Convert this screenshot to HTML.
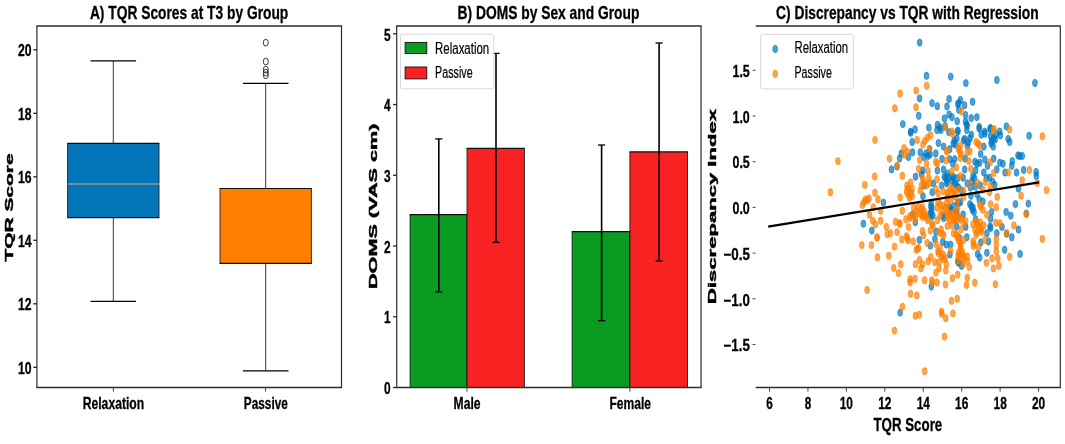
<!DOCTYPE html>
<html><head><meta charset="utf-8"><title>Figure</title>
<style>
html,body{margin:0;padding:0;background:#fff;}
body{width:1065px;height:444px;overflow:hidden;font-family:"Liberation Sans",sans-serif;}
svg{display:block;font-family:"Liberation Sans",sans-serif;will-change:transform;opacity:.999;}
.b{fill:#0079c4;fill-opacity:.7;stroke:#0079c4;stroke-opacity:.7;stroke-width:.8}
.o{fill:#ff7f00;fill-opacity:.7;stroke:#ff7f00;stroke-opacity:.7;stroke-width:.8}
</style></head><body>
<svg width="1065" height="444" viewBox="0 0 1065 444">
<rect x="0" y="0" width="1065" height="444" fill="#fff"/>
<line x1="113.30" x2="113.30" y1="60.90" y2="143.30" stroke="#222" stroke-width="0.9"/>
<line x1="113.30" x2="113.30" y1="217.60" y2="301.40" stroke="#222" stroke-width="0.9"/>
<line x1="90.50" x2="136.10" y1="60.90" y2="60.90" stroke="#000" stroke-width="1.25"/>
<line x1="90.50" x2="136.10" y1="301.40" y2="301.40" stroke="#000" stroke-width="1.25"/>
<rect x="67.60" y="143.30" width="91.40" height="74.30" fill="#0275b8"/>
<line x1="67.60" x2="67.60" y1="143.30" y2="217.60" stroke="#151515" stroke-width="0.85"/>
<line x1="159.00" x2="159.00" y1="143.30" y2="217.60" stroke="#151515" stroke-width="0.85"/>
<line x1="67.20" x2="159.40" y1="143.30" y2="143.30" stroke="#101010" stroke-width="1.2"/>
<line x1="67.20" x2="159.40" y1="217.60" y2="217.60" stroke="#101010" stroke-width="1.2"/>
<line x1="67.60" x2="159.00" y1="184.10" y2="184.10" stroke="#9a9488" stroke-width="1.5"/>
<line x1="265.70" x2="265.70" y1="83.30" y2="188.50" stroke="#222" stroke-width="0.9"/>
<line x1="265.70" x2="265.70" y1="263.40" y2="370.80" stroke="#222" stroke-width="0.9"/>
<line x1="242.90" x2="288.50" y1="83.30" y2="83.30" stroke="#000" stroke-width="1.25"/>
<line x1="242.90" x2="288.50" y1="370.80" y2="370.80" stroke="#000" stroke-width="1.25"/>
<rect x="220.00" y="188.50" width="91.40" height="74.90" fill="#ff7f00"/>
<line x1="220.00" x2="220.00" y1="188.50" y2="263.40" stroke="#151515" stroke-width="0.85"/>
<line x1="311.40" x2="311.40" y1="188.50" y2="263.40" stroke="#151515" stroke-width="0.85"/>
<line x1="219.60" x2="311.80" y1="188.50" y2="188.50" stroke="#101010" stroke-width="1.2"/>
<line x1="219.60" x2="311.80" y1="263.40" y2="263.40" stroke="#101010" stroke-width="1.2"/>
<ellipse cx="265.8" cy="42.7" rx="2.5" ry="3.4" fill="none" stroke="#222" stroke-width="0.9"/>
<ellipse cx="265.8" cy="61.5" rx="2.5" ry="3.4" fill="none" stroke="#222" stroke-width="0.9"/>
<ellipse cx="265.8" cy="69.6" rx="2.5" ry="3.4" fill="none" stroke="#222" stroke-width="0.9"/>
<ellipse cx="265.8" cy="72.6" rx="2.5" ry="3.4" fill="none" stroke="#222" stroke-width="0.9"/>
<ellipse cx="265.8" cy="75.2" rx="2.5" ry="3.4" fill="none" stroke="#222" stroke-width="0.9"/>
<line x1="36.30" x2="342.10" y1="26.00" y2="26.00" stroke="#2e2e2e" stroke-width="1.5"/>
<line x1="36.30" x2="342.10" y1="387.50" y2="387.50" stroke="#2e2e2e" stroke-width="1.5"/>
<line x1="341.50" x2="341.50" y1="26.00" y2="387.50" stroke="#2e2e2e" stroke-width="1.2"/>
<line x1="36.90" x2="36.90" y1="26.00" y2="387.50" stroke="#2e2e2e" stroke-width="1.2"/>
<line x1="33.30" x2="36.90" y1="49.80" y2="49.80" stroke="#222" stroke-width="1.3"/>
<text x="17.90" y="56.20" font-size="16.4" font-weight="bold" fill="#000" stroke="#000" stroke-width="0.3" textLength="13.60" lengthAdjust="spacingAndGlyphs">20</text>
<line x1="33.30" x2="36.90" y1="113.30" y2="113.30" stroke="#222" stroke-width="1.3"/>
<text x="17.90" y="119.70" font-size="16.4" font-weight="bold" fill="#000" stroke="#000" stroke-width="0.3" textLength="13.60" lengthAdjust="spacingAndGlyphs">18</text>
<line x1="33.30" x2="36.90" y1="176.80" y2="176.80" stroke="#222" stroke-width="1.3"/>
<text x="17.90" y="183.20" font-size="16.4" font-weight="bold" fill="#000" stroke="#000" stroke-width="0.3" textLength="13.60" lengthAdjust="spacingAndGlyphs">16</text>
<line x1="33.30" x2="36.90" y1="240.30" y2="240.30" stroke="#222" stroke-width="1.3"/>
<text x="17.90" y="246.70" font-size="16.4" font-weight="bold" fill="#000" stroke="#000" stroke-width="0.3" textLength="13.60" lengthAdjust="spacingAndGlyphs">14</text>
<line x1="33.30" x2="36.90" y1="303.80" y2="303.80" stroke="#222" stroke-width="1.3"/>
<text x="17.90" y="310.20" font-size="16.4" font-weight="bold" fill="#000" stroke="#000" stroke-width="0.3" textLength="13.60" lengthAdjust="spacingAndGlyphs">12</text>
<line x1="33.30" x2="36.90" y1="367.30" y2="367.30" stroke="#222" stroke-width="1.3"/>
<text x="17.90" y="373.70" font-size="16.4" font-weight="bold" fill="#000" stroke="#000" stroke-width="0.3" textLength="13.60" lengthAdjust="spacingAndGlyphs">10</text>
<line x1="113.40" x2="113.40" y1="387.50" y2="391.70" stroke="#333" stroke-width="0.9"/>
<line x1="265.60" x2="265.60" y1="387.50" y2="391.70" stroke="#333" stroke-width="0.9"/>
<text x="82.70" y="409.00" font-size="16.6" font-weight="bold" fill="#000" stroke="#000" stroke-width="0.3" textLength="61.50" lengthAdjust="spacingAndGlyphs">Relaxation</text>
<text x="243.80" y="409.00" font-size="16.6" font-weight="bold" fill="#000" stroke="#000" stroke-width="0.3" textLength="44.00" lengthAdjust="spacingAndGlyphs">Passive</text>
<text x="89.90" y="18.80" font-size="18.6" font-weight="bold" fill="#000" stroke="#000" stroke-width="0.3" textLength="198.40" lengthAdjust="spacingAndGlyphs">A) TQR Scores at T3 by Group</text>
<text transform="translate(12.50,261.60) rotate(-90)" x="0" y="0" font-size="11.3" font-weight="bold" stroke="#000" stroke-width="0.45" textLength="108.20" lengthAdjust="spacingAndGlyphs">TQR Score</text>
<rect x="410.10" y="214.70" width="56.90" height="172.80" fill="#0a9b22"/>
<line x1="410.10" x2="410.10" y1="214.70" y2="387.50" stroke="#151515" stroke-width="0.85"/>
<line x1="467.00" x2="467.00" y1="214.70" y2="387.50" stroke="#151515" stroke-width="0.85"/>
<line x1="409.70" x2="467.40" y1="214.70" y2="214.70" stroke="#101010" stroke-width="1.2"/>
<rect x="467.00" y="148.40" width="57.40" height="239.10" fill="#f82222"/>
<line x1="467.00" x2="467.00" y1="148.40" y2="387.50" stroke="#151515" stroke-width="0.85"/>
<line x1="524.40" x2="524.40" y1="148.40" y2="387.50" stroke="#151515" stroke-width="0.85"/>
<line x1="466.60" x2="524.80" y1="148.40" y2="148.40" stroke="#101010" stroke-width="1.2"/>
<rect x="572.10" y="231.70" width="57.80" height="155.80" fill="#0a9b22"/>
<line x1="572.10" x2="572.10" y1="231.70" y2="387.50" stroke="#151515" stroke-width="0.85"/>
<line x1="629.90" x2="629.90" y1="231.70" y2="387.50" stroke="#151515" stroke-width="0.85"/>
<line x1="571.70" x2="630.30" y1="231.70" y2="231.70" stroke="#101010" stroke-width="1.2"/>
<rect x="629.90" y="151.90" width="57.60" height="235.60" fill="#f82222"/>
<line x1="629.90" x2="629.90" y1="151.90" y2="387.50" stroke="#151515" stroke-width="0.85"/>
<line x1="687.50" x2="687.50" y1="151.90" y2="387.50" stroke="#151515" stroke-width="0.85"/>
<line x1="629.50" x2="687.90" y1="151.90" y2="151.90" stroke="#101010" stroke-width="1.2"/>
<line x1="438.80" x2="438.80" y1="138.90" y2="291.80" stroke="#000" stroke-width="1.6"/>
<line x1="435.20" x2="442.40" y1="138.90" y2="138.90" stroke="#000" stroke-width="1.3"/>
<line x1="435.20" x2="442.40" y1="291.80" y2="291.80" stroke="#000" stroke-width="1.3"/>
<line x1="496.00" x2="496.00" y1="53.40" y2="242.40" stroke="#000" stroke-width="1.6"/>
<line x1="492.40" x2="499.60" y1="53.40" y2="53.40" stroke="#000" stroke-width="1.3"/>
<line x1="492.40" x2="499.60" y1="242.40" y2="242.40" stroke="#000" stroke-width="1.3"/>
<line x1="601.60" x2="601.60" y1="145.00" y2="320.70" stroke="#000" stroke-width="1.6"/>
<line x1="598.00" x2="605.20" y1="145.00" y2="145.00" stroke="#000" stroke-width="1.3"/>
<line x1="598.00" x2="605.20" y1="320.70" y2="320.70" stroke="#000" stroke-width="1.3"/>
<line x1="659.10" x2="659.10" y1="43.00" y2="261.00" stroke="#000" stroke-width="1.6"/>
<line x1="655.50" x2="662.70" y1="43.00" y2="43.00" stroke="#000" stroke-width="1.3"/>
<line x1="655.50" x2="662.70" y1="261.00" y2="261.00" stroke="#000" stroke-width="1.3"/>
<line x1="396.10" x2="701.60" y1="26.00" y2="26.00" stroke="#2e2e2e" stroke-width="1.5"/>
<line x1="396.10" x2="701.60" y1="387.50" y2="387.50" stroke="#2e2e2e" stroke-width="1.5"/>
<line x1="701.00" x2="701.00" y1="26.00" y2="387.50" stroke="#2e2e2e" stroke-width="1.2"/>
<line x1="396.70" x2="396.70" y1="26.00" y2="387.50" stroke="#2e2e2e" stroke-width="1.2"/>
<line x1="393.10" x2="396.70" y1="387.50" y2="387.50" stroke="#222" stroke-width="1.3"/>
<text x="384.00" y="394.20" font-size="16.4" font-weight="bold" fill="#000" stroke="#000" stroke-width="0.3" textLength="6.60" lengthAdjust="spacingAndGlyphs">0</text>
<line x1="393.10" x2="396.70" y1="316.76" y2="316.76" stroke="#222" stroke-width="1.3"/>
<text x="384.00" y="323.46" font-size="16.4" font-weight="bold" fill="#000" stroke="#000" stroke-width="0.3" textLength="6.60" lengthAdjust="spacingAndGlyphs">1</text>
<line x1="393.10" x2="396.70" y1="246.02" y2="246.02" stroke="#222" stroke-width="1.3"/>
<text x="384.00" y="252.72" font-size="16.4" font-weight="bold" fill="#000" stroke="#000" stroke-width="0.3" textLength="6.60" lengthAdjust="spacingAndGlyphs">2</text>
<line x1="393.10" x2="396.70" y1="175.28" y2="175.28" stroke="#222" stroke-width="1.3"/>
<text x="384.00" y="181.98" font-size="16.4" font-weight="bold" fill="#000" stroke="#000" stroke-width="0.3" textLength="6.60" lengthAdjust="spacingAndGlyphs">3</text>
<line x1="393.10" x2="396.70" y1="104.54" y2="104.54" stroke="#222" stroke-width="1.3"/>
<text x="384.00" y="111.24" font-size="16.4" font-weight="bold" fill="#000" stroke="#000" stroke-width="0.3" textLength="6.60" lengthAdjust="spacingAndGlyphs">4</text>
<line x1="393.10" x2="396.70" y1="33.80" y2="33.80" stroke="#222" stroke-width="1.3"/>
<text x="384.00" y="40.50" font-size="16.4" font-weight="bold" fill="#000" stroke="#000" stroke-width="0.3" textLength="6.60" lengthAdjust="spacingAndGlyphs">5</text>
<line x1="467.00" x2="467.00" y1="387.50" y2="391.70" stroke="#333" stroke-width="0.9"/>
<line x1="629.90" x2="629.90" y1="387.50" y2="391.70" stroke="#333" stroke-width="0.9"/>
<text x="453.60" y="409.00" font-size="16.6" font-weight="bold" fill="#000" stroke="#000" stroke-width="0.3" textLength="27.00" lengthAdjust="spacingAndGlyphs">Male</text>
<text x="609.50" y="409.00" font-size="16.6" font-weight="bold" fill="#000" stroke="#000" stroke-width="0.3" textLength="41.50" lengthAdjust="spacingAndGlyphs">Female</text>
<text x="457.60" y="18.80" font-size="18.6" font-weight="bold" fill="#000" stroke="#000" stroke-width="0.3" textLength="181.80" lengthAdjust="spacingAndGlyphs">B) DOMS by Sex and Group</text>
<text transform="translate(377.20,289.00) rotate(-90)" x="0" y="0" font-size="11.3" font-weight="bold" stroke="#000" stroke-width="0.45" textLength="165.40" lengthAdjust="spacingAndGlyphs">DOMS (VAS cm)</text>
<rect x="400.5" y="34.2" width="93.3" height="54.6" rx="2" ry="2.5" fill="#fff" fill-opacity="0.8" stroke="#d4d4d4" stroke-width="0.9"/>
<rect x="405.1" y="42.4" width="21.7" height="11.1" fill="#0a9b22" stroke="#111" stroke-width="0.9"/>
<rect x="405.1" y="67.0" width="21.7" height="11.9" fill="#f82222" stroke="#111" stroke-width="0.9"/>
<text x="435.10" y="53.50" font-size="16" font-weight="normal" fill="#000" stroke="#000" stroke-width="0.2" textLength="54.10" lengthAdjust="spacingAndGlyphs">Relaxation</text>
<text x="435.10" y="77.80" font-size="16" font-weight="normal" fill="#000" stroke="#000" stroke-width="0.2" textLength="37.60" lengthAdjust="spacingAndGlyphs">Passive</text>
<g>
<ellipse class="b" cx="919.7" cy="42.6" rx="2.4" ry="3.7"/>
<ellipse class="b" cx="926.5" cy="75.8" rx="2.4" ry="3.7"/>
<ellipse class="b" cx="950.7" cy="76.6" rx="2.4" ry="3.7"/>
<ellipse class="b" cx="965.9" cy="83.1" rx="2.4" ry="3.7"/>
<ellipse class="b" cx="996.9" cy="80.0" rx="2.4" ry="3.7"/>
<ellipse class="b" cx="1034.9" cy="83.0" rx="2.4" ry="3.7"/>
<ellipse class="b" cx="919.6" cy="98.4" rx="2.4" ry="3.7"/>
<ellipse class="b" cx="949.1" cy="98.9" rx="2.4" ry="3.7"/>
<ellipse class="b" cx="932.0" cy="103.1" rx="2.4" ry="3.7"/>
<ellipse class="b" cx="937.3" cy="106.2" rx="2.4" ry="3.7"/>
<ellipse class="b" cx="947.0" cy="106.5" rx="2.4" ry="3.7"/>
<ellipse class="b" cx="958.8" cy="103.1" rx="2.4" ry="3.7"/>
<ellipse class="b" cx="918.7" cy="115.7" rx="2.4" ry="3.7"/>
<ellipse class="b" cx="949.1" cy="114.5" rx="2.4" ry="3.7"/>
<ellipse class="b" cx="952.0" cy="117.1" rx="2.4" ry="3.7"/>
<ellipse class="b" cx="944.5" cy="118.4" rx="2.4" ry="3.7"/>
<ellipse class="b" cx="957.2" cy="121.2" rx="2.4" ry="3.7"/>
<ellipse class="b" cx="902.8" cy="124.1" rx="2.4" ry="3.7"/>
<ellipse class="b" cx="928.9" cy="127.6" rx="2.4" ry="3.7"/>
<ellipse class="b" cx="937.5" cy="124.8" rx="2.4" ry="3.7"/>
<ellipse class="b" cx="945.1" cy="126.0" rx="2.4" ry="3.7"/>
<ellipse class="b" cx="915.0" cy="129.4" rx="2.4" ry="3.7"/>
<ellipse class="b" cx="910.6" cy="131.6" rx="2.4" ry="3.7"/>
<ellipse class="b" cx="937.0" cy="130.2" rx="2.4" ry="3.7"/>
<ellipse class="b" cx="940.1" cy="127.4" rx="2.4" ry="3.7"/>
<ellipse class="b" cx="960.4" cy="100.0" rx="2.4" ry="3.7"/>
<ellipse class="b" cx="957.8" cy="104.1" rx="2.4" ry="3.7"/>
<ellipse class="b" cx="964.5" cy="105.2" rx="2.4" ry="3.7"/>
<ellipse class="b" cx="972.6" cy="101.7" rx="2.4" ry="3.7"/>
<ellipse class="b" cx="958.8" cy="109.8" rx="2.4" ry="3.7"/>
<ellipse class="b" cx="965.5" cy="115.0" rx="2.4" ry="3.7"/>
<ellipse class="b" cx="971.2" cy="118.1" rx="2.4" ry="3.7"/>
<ellipse class="b" cx="976.9" cy="117.1" rx="2.4" ry="3.7"/>
<ellipse class="b" cx="966.6" cy="124.4" rx="2.4" ry="3.7"/>
<ellipse class="b" cx="965.5" cy="121.7" rx="2.4" ry="3.7"/>
<ellipse class="b" cx="967.2" cy="125.5" rx="2.4" ry="3.7"/>
<ellipse class="b" cx="979.2" cy="126.9" rx="2.4" ry="3.7"/>
<ellipse class="b" cx="990.4" cy="127.9" rx="2.4" ry="3.7"/>
<ellipse class="b" cx="1006.4" cy="126.4" rx="2.4" ry="3.7"/>
<ellipse class="b" cx="957.8" cy="130.5" rx="2.4" ry="3.7"/>
<ellipse class="b" cx="984.7" cy="131.6" rx="2.4" ry="3.7"/>
<ellipse class="b" cx="999.7" cy="131.6" rx="2.4" ry="3.7"/>
<ellipse class="b" cx="910.7" cy="132.7" rx="2.4" ry="3.7"/>
<ellipse class="b" cx="941.0" cy="130.0" rx="2.4" ry="3.7"/>
<ellipse class="b" cx="948.8" cy="132.1" rx="2.4" ry="3.7"/>
<ellipse class="b" cx="912.2" cy="142.0" rx="2.4" ry="3.7"/>
<ellipse class="b" cx="938.4" cy="143.0" rx="2.4" ry="3.7"/>
<ellipse class="b" cx="943.6" cy="146.6" rx="2.4" ry="3.7"/>
<ellipse class="b" cx="901.3" cy="153.4" rx="2.4" ry="3.7"/>
<ellipse class="b" cx="912.5" cy="152.3" rx="2.4" ry="3.7"/>
<ellipse class="b" cx="908.4" cy="157.0" rx="2.4" ry="3.7"/>
<ellipse class="b" cx="899.6" cy="158.6" rx="2.4" ry="3.7"/>
<ellipse class="b" cx="929.6" cy="149.5" rx="2.4" ry="3.7"/>
<ellipse class="b" cx="920.3" cy="152.3" rx="2.4" ry="3.7"/>
<ellipse class="b" cx="926.0" cy="153.4" rx="2.4" ry="3.7"/>
<ellipse class="b" cx="930.1" cy="154.4" rx="2.4" ry="3.7"/>
<ellipse class="b" cx="935.8" cy="153.4" rx="2.4" ry="3.7"/>
<ellipse class="b" cx="942.0" cy="159.0" rx="2.4" ry="3.7"/>
<ellipse class="b" cx="897.0" cy="166.5" rx="2.4" ry="3.7"/>
<ellipse class="b" cx="891.5" cy="169.4" rx="2.4" ry="3.7"/>
<ellipse class="b" cx="922.9" cy="170.5" rx="2.4" ry="3.7"/>
<ellipse class="b" cx="937.4" cy="170.5" rx="2.4" ry="3.7"/>
<ellipse class="b" cx="943.6" cy="169.4" rx="2.4" ry="3.7"/>
<ellipse class="b" cx="957.9" cy="131.6" rx="2.4" ry="3.7"/>
<ellipse class="b" cx="966.8" cy="130.1" rx="2.4" ry="3.7"/>
<ellipse class="b" cx="979.2" cy="128.5" rx="2.4" ry="3.7"/>
<ellipse class="b" cx="990.1" cy="129.0" rx="2.4" ry="3.7"/>
<ellipse class="b" cx="971.4" cy="134.7" rx="2.4" ry="3.7"/>
<ellipse class="b" cx="981.3" cy="134.7" rx="2.4" ry="3.7"/>
<ellipse class="b" cx="984.9" cy="133.7" rx="2.4" ry="3.7"/>
<ellipse class="b" cx="990.6" cy="136.3" rx="2.4" ry="3.7"/>
<ellipse class="b" cx="995.8" cy="134.2" rx="2.4" ry="3.7"/>
<ellipse class="b" cx="1000.4" cy="135.3" rx="2.4" ry="3.7"/>
<ellipse class="b" cx="1029.1" cy="135.8" rx="2.4" ry="3.7"/>
<ellipse class="b" cx="964.7" cy="138.9" rx="2.4" ry="3.7"/>
<ellipse class="b" cx="954.3" cy="140.4" rx="2.4" ry="3.7"/>
<ellipse class="b" cx="955.4" cy="144.6" rx="2.4" ry="3.7"/>
<ellipse class="b" cx="968.3" cy="142.5" rx="2.4" ry="3.7"/>
<ellipse class="b" cx="983.8" cy="146.6" rx="2.4" ry="3.7"/>
<ellipse class="b" cx="991.6" cy="140.9" rx="2.4" ry="3.7"/>
<ellipse class="b" cx="995.2" cy="139.4" rx="2.4" ry="3.7"/>
<ellipse class="b" cx="993.2" cy="146.6" rx="2.4" ry="3.7"/>
<ellipse class="b" cx="1008.2" cy="138.9" rx="2.4" ry="3.7"/>
<ellipse class="b" cx="1009.7" cy="142.0" rx="2.4" ry="3.7"/>
<ellipse class="b" cx="949.7" cy="149.2" rx="2.4" ry="3.7"/>
<ellipse class="b" cx="980.7" cy="153.9" rx="2.4" ry="3.7"/>
<ellipse class="b" cx="1018.0" cy="155.4" rx="2.4" ry="3.7"/>
<ellipse class="b" cx="1022.2" cy="156.0" rx="2.4" ry="3.7"/>
<ellipse class="b" cx="949.7" cy="159.1" rx="2.4" ry="3.7"/>
<ellipse class="b" cx="954.8" cy="159.1" rx="2.4" ry="3.7"/>
<ellipse class="b" cx="965.2" cy="158.6" rx="2.4" ry="3.7"/>
<ellipse class="b" cx="975.0" cy="161.7" rx="2.4" ry="3.7"/>
<ellipse class="b" cx="979.7" cy="162.7" rx="2.4" ry="3.7"/>
<ellipse class="b" cx="984.9" cy="159.6" rx="2.4" ry="3.7"/>
<ellipse class="b" cx="993.7" cy="158.6" rx="2.4" ry="3.7"/>
<ellipse class="b" cx="999.9" cy="162.7" rx="2.4" ry="3.7"/>
<ellipse class="b" cx="1003.0" cy="163.7" rx="2.4" ry="3.7"/>
<ellipse class="b" cx="1012.3" cy="161.1" rx="2.4" ry="3.7"/>
<ellipse class="b" cx="1011.8" cy="165.8" rx="2.4" ry="3.7"/>
<ellipse class="b" cx="952.8" cy="163.7" rx="2.4" ry="3.7"/>
<ellipse class="b" cx="987.5" cy="165.8" rx="2.4" ry="3.7"/>
<ellipse class="b" cx="964.7" cy="169.4" rx="2.4" ry="3.7"/>
<ellipse class="b" cx="975.6" cy="170.5" rx="2.4" ry="3.7"/>
<ellipse class="b" cx="983.8" cy="172.5" rx="2.4" ry="3.7"/>
<ellipse class="b" cx="996.8" cy="169.4" rx="2.4" ry="3.7"/>
<ellipse class="b" cx="1005.1" cy="172.5" rx="2.4" ry="3.7"/>
<ellipse class="b" cx="1016.5" cy="172.5" rx="2.4" ry="3.7"/>
<ellipse class="b" cx="1023.7" cy="170.0" rx="2.4" ry="3.7"/>
<ellipse class="b" cx="1036.1" cy="172.0" rx="2.4" ry="3.7"/>
<ellipse class="b" cx="947.6" cy="173.6" rx="2.4" ry="3.7"/>
<ellipse class="b" cx="915.5" cy="176.7" rx="2.4" ry="3.7"/>
<ellipse class="b" cx="883.4" cy="202.6" rx="2.4" ry="3.7"/>
<ellipse class="b" cx="923.0" cy="196.3" rx="2.4" ry="3.7"/>
<ellipse class="b" cx="924.1" cy="185.5" rx="2.4" ry="3.7"/>
<ellipse class="b" cx="932.3" cy="192.2" rx="2.4" ry="3.7"/>
<ellipse class="b" cx="933.4" cy="183.4" rx="2.4" ry="3.7"/>
<ellipse class="b" cx="941.7" cy="185.5" rx="2.4" ry="3.7"/>
<ellipse class="b" cx="946.8" cy="183.4" rx="2.4" ry="3.7"/>
<ellipse class="b" cx="944.3" cy="176.7" rx="2.4" ry="3.7"/>
<ellipse class="b" cx="948.4" cy="177.2" rx="2.4" ry="3.7"/>
<ellipse class="b" cx="952.5" cy="181.3" rx="2.4" ry="3.7"/>
<ellipse class="b" cx="956.7" cy="185.5" rx="2.4" ry="3.7"/>
<ellipse class="b" cx="957.7" cy="178.2" rx="2.4" ry="3.7"/>
<ellipse class="b" cx="931.3" cy="203.1" rx="2.4" ry="3.7"/>
<ellipse class="b" cx="931.8" cy="208.3" rx="2.4" ry="3.7"/>
<ellipse class="b" cx="930.3" cy="213.4" rx="2.4" ry="3.7"/>
<ellipse class="b" cx="949.4" cy="207.2" rx="2.4" ry="3.7"/>
<ellipse class="b" cx="953.6" cy="206.2" rx="2.4" ry="3.7"/>
<ellipse class="b" cx="957.7" cy="203.1" rx="2.4" ry="3.7"/>
<ellipse class="b" cx="912.7" cy="214.5" rx="2.4" ry="3.7"/>
<ellipse class="b" cx="943.2" cy="215.5" rx="2.4" ry="3.7"/>
<ellipse class="b" cx="921.5" cy="174.1" rx="2.4" ry="3.7"/>
<ellipse class="b" cx="963.1" cy="177.7" rx="2.4" ry="3.7"/>
<ellipse class="b" cx="967.3" cy="183.4" rx="2.4" ry="3.7"/>
<ellipse class="b" cx="973.0" cy="176.1" rx="2.4" ry="3.7"/>
<ellipse class="b" cx="971.9" cy="181.3" rx="2.4" ry="3.7"/>
<ellipse class="b" cx="975.0" cy="186.5" rx="2.4" ry="3.7"/>
<ellipse class="b" cx="989.5" cy="177.7" rx="2.4" ry="3.7"/>
<ellipse class="b" cx="992.6" cy="181.8" rx="2.4" ry="3.7"/>
<ellipse class="b" cx="994.7" cy="184.9" rx="2.4" ry="3.7"/>
<ellipse class="b" cx="1036.3" cy="176.0" rx="2.4" ry="3.7"/>
<ellipse class="b" cx="1018.5" cy="188.6" rx="2.4" ry="3.7"/>
<ellipse class="b" cx="960.5" cy="202.0" rx="2.4" ry="3.7"/>
<ellipse class="b" cx="969.9" cy="204.1" rx="2.4" ry="3.7"/>
<ellipse class="b" cx="973.0" cy="207.7" rx="2.4" ry="3.7"/>
<ellipse class="b" cx="974.0" cy="211.9" rx="2.4" ry="3.7"/>
<ellipse class="b" cx="979.2" cy="199.4" rx="2.4" ry="3.7"/>
<ellipse class="b" cx="982.8" cy="201.5" rx="2.4" ry="3.7"/>
<ellipse class="b" cx="977.1" cy="194.3" rx="2.4" ry="3.7"/>
<ellipse class="b" cx="970.9" cy="195.8" rx="2.4" ry="3.7"/>
<ellipse class="b" cx="1015.4" cy="204.1" rx="2.4" ry="3.7"/>
<ellipse class="b" cx="1028.4" cy="203.6" rx="2.4" ry="3.7"/>
<ellipse class="b" cx="1006.1" cy="211.9" rx="2.4" ry="3.7"/>
<ellipse class="b" cx="1010.8" cy="215.6" rx="2.4" ry="3.7"/>
<ellipse class="b" cx="991.6" cy="211.9" rx="2.4" ry="3.7"/>
<ellipse class="b" cx="963.1" cy="214.5" rx="2.4" ry="3.7"/>
<ellipse class="b" cx="956.4" cy="211.4" rx="2.4" ry="3.7"/>
<ellipse class="b" cx="961.6" cy="190.6" rx="2.4" ry="3.7"/>
<ellipse class="b" cx="980.2" cy="185.5" rx="2.4" ry="3.7"/>
<ellipse class="b" cx="958.5" cy="187.5" rx="2.4" ry="3.7"/>
<ellipse class="b" cx="1026.3" cy="213.5" rx="2.4" ry="3.7"/>
<ellipse class="b" cx="863.4" cy="223.7" rx="2.4" ry="3.7"/>
<ellipse class="b" cx="871.8" cy="230.6" rx="2.4" ry="3.7"/>
<ellipse class="b" cx="915.3" cy="222.3" rx="2.4" ry="3.7"/>
<ellipse class="b" cx="919.4" cy="239.9" rx="2.4" ry="3.7"/>
<ellipse class="b" cx="930.3" cy="245.6" rx="2.4" ry="3.7"/>
<ellipse class="b" cx="934.9" cy="238.9" rx="2.4" ry="3.7"/>
<ellipse class="b" cx="942.7" cy="242.0" rx="2.4" ry="3.7"/>
<ellipse class="b" cx="946.3" cy="244.6" rx="2.4" ry="3.7"/>
<ellipse class="b" cx="950.5" cy="244.6" rx="2.4" ry="3.7"/>
<ellipse class="b" cx="943.7" cy="218.1" rx="2.4" ry="3.7"/>
<ellipse class="b" cx="956.7" cy="226.4" rx="2.4" ry="3.7"/>
<ellipse class="b" cx="930.8" cy="216.1" rx="2.4" ry="3.7"/>
<ellipse class="b" cx="936.0" cy="231.6" rx="2.4" ry="3.7"/>
<ellipse class="b" cx="949.9" cy="254.4" rx="2.4" ry="3.7"/>
<ellipse class="b" cx="990.6" cy="218.7" rx="2.4" ry="3.7"/>
<ellipse class="b" cx="990.1" cy="226.4" rx="2.4" ry="3.7"/>
<ellipse class="b" cx="990.6" cy="228.0" rx="2.4" ry="3.7"/>
<ellipse class="b" cx="975.6" cy="219.2" rx="2.4" ry="3.7"/>
<ellipse class="b" cx="965.7" cy="226.9" rx="2.4" ry="3.7"/>
<ellipse class="b" cx="966.8" cy="237.3" rx="2.4" ry="3.7"/>
<ellipse class="b" cx="986.9" cy="233.2" rx="2.4" ry="3.7"/>
<ellipse class="b" cx="996.8" cy="233.2" rx="2.4" ry="3.7"/>
<ellipse class="b" cx="1002.0" cy="226.9" rx="2.4" ry="3.7"/>
<ellipse class="b" cx="1018.5" cy="229.5" rx="2.4" ry="3.7"/>
<ellipse class="b" cx="1011.8" cy="237.3" rx="2.4" ry="3.7"/>
<ellipse class="b" cx="988.5" cy="241.4" rx="2.4" ry="3.7"/>
<ellipse class="b" cx="980.7" cy="242.5" rx="2.4" ry="3.7"/>
<ellipse class="b" cx="1004.6" cy="249.7" rx="2.4" ry="3.7"/>
<ellipse class="b" cx="986.9" cy="252.8" rx="2.4" ry="3.7"/>
<ellipse class="b" cx="977.6" cy="253.9" rx="2.4" ry="3.7"/>
<ellipse class="b" cx="979.7" cy="257.5" rx="2.4" ry="3.7"/>
<ellipse class="b" cx="1020.1" cy="253.9" rx="2.4" ry="3.7"/>
<ellipse class="b" cx="1006.6" cy="233.8" rx="2.4" ry="3.7"/>
<ellipse class="b" cx="931.3" cy="286.6" rx="2.4" ry="3.7"/>
<ellipse class="b" cx="957.7" cy="261.2" rx="2.4" ry="3.7"/>
<ellipse class="b" cx="958.5" cy="262.7" rx="2.4" ry="3.7"/>
<ellipse class="b" cx="961.6" cy="265.8" rx="2.4" ry="3.7"/>
<ellipse class="b" cx="900.1" cy="312.6" rx="2.4" ry="3.7"/>
<ellipse class="b" cx="953.3" cy="143.5" rx="2.4" ry="3.7"/>
<ellipse class="b" cx="956.9" cy="138.4" rx="2.4" ry="3.7"/>
<ellipse class="b" cx="963.6" cy="140.4" rx="2.4" ry="3.7"/>
<ellipse class="b" cx="967.3" cy="145.6" rx="2.4" ry="3.7"/>
<ellipse class="b" cx="969.9" cy="138.4" rx="2.4" ry="3.7"/>
<ellipse class="b" cx="993.7" cy="138.4" rx="2.4" ry="3.7"/>
<ellipse class="b" cx="991.1" cy="143.5" rx="2.4" ry="3.7"/>
<ellipse class="b" cx="1019.6" cy="156.0" rx="2.4" ry="3.7"/>
<ellipse class="b" cx="977.1" cy="163.7" rx="2.4" ry="3.7"/>
<ellipse class="b" cx="945.8" cy="178.2" rx="2.4" ry="3.7"/>
<ellipse class="b" cx="953.6" cy="177.2" rx="2.4" ry="3.7"/>
<ellipse class="b" cx="954.6" cy="183.4" rx="2.4" ry="3.7"/>
<ellipse class="b" cx="930.8" cy="206.2" rx="2.4" ry="3.7"/>
<ellipse class="b" cx="931.3" cy="211.4" rx="2.4" ry="3.7"/>
<ellipse class="b" cx="932.9" cy="215.5" rx="2.4" ry="3.7"/>
<ellipse class="b" cx="951.0" cy="211.4" rx="2.4" ry="3.7"/>
<ellipse class="b" cx="956.7" cy="213.4" rx="2.4" ry="3.7"/>
<ellipse class="b" cx="947.1" cy="181.3" rx="2.4" ry="3.7"/>
<ellipse class="b" cx="952.3" cy="176.1" rx="2.4" ry="3.7"/>
<ellipse class="b" cx="970.4" cy="187.5" rx="2.4" ry="3.7"/>
<ellipse class="b" cx="974.5" cy="178.2" rx="2.4" ry="3.7"/>
<ellipse class="b" cx="986.4" cy="178.2" rx="2.4" ry="3.7"/>
<ellipse class="b" cx="971.4" cy="206.2" rx="2.4" ry="3.7"/>
<ellipse class="b" cx="972.4" cy="209.8" rx="2.4" ry="3.7"/>
<ellipse class="b" cx="951.2" cy="209.8" rx="2.4" ry="3.7"/>
<ellipse class="b" cx="958.5" cy="203.1" rx="2.4" ry="3.7"/>
<ellipse class="b" cx="959.3" cy="237.8" rx="2.4" ry="3.7"/>
<ellipse class="b" cx="928.0" cy="156.0" rx="2.4" ry="3.7"/>
<ellipse class="b" cx="923.9" cy="157.0" rx="2.4" ry="3.7"/>
<ellipse class="o" cx="926.7" cy="85.8" rx="2.4" ry="3.7"/>
<ellipse class="o" cx="916.2" cy="90.6" rx="2.4" ry="3.7"/>
<ellipse class="o" cx="900.1" cy="93.5" rx="2.4" ry="3.7"/>
<ellipse class="o" cx="894.8" cy="108.3" rx="2.4" ry="3.7"/>
<ellipse class="o" cx="916.0" cy="107.2" rx="2.4" ry="3.7"/>
<ellipse class="o" cx="945.1" cy="127.2" rx="2.4" ry="3.7"/>
<ellipse class="o" cx="961.4" cy="111.4" rx="2.4" ry="3.7"/>
<ellipse class="o" cx="994.0" cy="129.0" rx="2.4" ry="3.7"/>
<ellipse class="o" cx="1009.6" cy="129.5" rx="2.4" ry="3.7"/>
<ellipse class="o" cx="952.1" cy="131.5" rx="2.4" ry="3.7"/>
<ellipse class="o" cx="875.0" cy="139.9" rx="2.4" ry="3.7"/>
<ellipse class="o" cx="917.2" cy="139.9" rx="2.4" ry="3.7"/>
<ellipse class="o" cx="930.6" cy="135.3" rx="2.4" ry="3.7"/>
<ellipse class="o" cx="927.5" cy="137.8" rx="2.4" ry="3.7"/>
<ellipse class="o" cx="924.9" cy="140.9" rx="2.4" ry="3.7"/>
<ellipse class="o" cx="922.9" cy="144.6" rx="2.4" ry="3.7"/>
<ellipse class="o" cx="904.0" cy="148.2" rx="2.4" ry="3.7"/>
<ellipse class="o" cx="907.3" cy="151.8" rx="2.4" ry="3.7"/>
<ellipse class="o" cx="904.2" cy="154.9" rx="2.4" ry="3.7"/>
<ellipse class="o" cx="889.5" cy="158.6" rx="2.4" ry="3.7"/>
<ellipse class="o" cx="929.6" cy="148.7" rx="2.4" ry="3.7"/>
<ellipse class="o" cx="947.2" cy="151.3" rx="2.4" ry="3.7"/>
<ellipse class="o" cx="919.8" cy="160.1" rx="2.4" ry="3.7"/>
<ellipse class="o" cx="935.8" cy="161.7" rx="2.4" ry="3.7"/>
<ellipse class="o" cx="937.4" cy="163.7" rx="2.4" ry="3.7"/>
<ellipse class="o" cx="926.5" cy="163.7" rx="2.4" ry="3.7"/>
<ellipse class="o" cx="897.0" cy="165.8" rx="2.4" ry="3.7"/>
<ellipse class="o" cx="918.7" cy="168.9" rx="2.4" ry="3.7"/>
<ellipse class="o" cx="928.0" cy="171.0" rx="2.4" ry="3.7"/>
<ellipse class="o" cx="952.3" cy="133.7" rx="2.4" ry="3.7"/>
<ellipse class="o" cx="993.7" cy="130.1" rx="2.4" ry="3.7"/>
<ellipse class="o" cx="1042.4" cy="136.3" rx="2.4" ry="3.7"/>
<ellipse class="o" cx="976.1" cy="142.0" rx="2.4" ry="3.7"/>
<ellipse class="o" cx="979.7" cy="145.6" rx="2.4" ry="3.7"/>
<ellipse class="o" cx="960.5" cy="145.6" rx="2.4" ry="3.7"/>
<ellipse class="o" cx="959.5" cy="151.3" rx="2.4" ry="3.7"/>
<ellipse class="o" cx="969.9" cy="151.3" rx="2.4" ry="3.7"/>
<ellipse class="o" cx="946.6" cy="151.3" rx="2.4" ry="3.7"/>
<ellipse class="o" cx="960.5" cy="158.0" rx="2.4" ry="3.7"/>
<ellipse class="o" cx="946.0" cy="160.6" rx="2.4" ry="3.7"/>
<ellipse class="o" cx="968.8" cy="161.1" rx="2.4" ry="3.7"/>
<ellipse class="o" cx="990.1" cy="162.2" rx="2.4" ry="3.7"/>
<ellipse class="o" cx="956.4" cy="167.4" rx="2.4" ry="3.7"/>
<ellipse class="o" cx="970.9" cy="168.9" rx="2.4" ry="3.7"/>
<ellipse class="o" cx="951.7" cy="171.5" rx="2.4" ry="3.7"/>
<ellipse class="o" cx="993.7" cy="173.1" rx="2.4" ry="3.7"/>
<ellipse class="o" cx="1008.2" cy="172.5" rx="2.4" ry="3.7"/>
<ellipse class="o" cx="1029.4" cy="170.0" rx="2.4" ry="3.7"/>
<ellipse class="o" cx="837.9" cy="161.1" rx="2.4" ry="3.7"/>
<ellipse class="o" cx="830.4" cy="192.2" rx="2.4" ry="3.7"/>
<ellipse class="o" cx="864.8" cy="184.9" rx="2.4" ry="3.7"/>
<ellipse class="o" cx="865.6" cy="199.4" rx="2.4" ry="3.7"/>
<ellipse class="o" cx="862.5" cy="205.1" rx="2.4" ry="3.7"/>
<ellipse class="o" cx="869.0" cy="198.4" rx="2.4" ry="3.7"/>
<ellipse class="o" cx="869.5" cy="214.8" rx="2.4" ry="3.7"/>
<ellipse class="o" cx="874.7" cy="176.5" rx="2.4" ry="3.7"/>
<ellipse class="o" cx="902.4" cy="175.8" rx="2.4" ry="3.7"/>
<ellipse class="o" cx="874.9" cy="192.7" rx="2.4" ry="3.7"/>
<ellipse class="o" cx="878.0" cy="199.4" rx="2.4" ry="3.7"/>
<ellipse class="o" cx="900.2" cy="197.4" rx="2.4" ry="3.7"/>
<ellipse class="o" cx="873.3" cy="207.2" rx="2.4" ry="3.7"/>
<ellipse class="o" cx="880.6" cy="210.8" rx="2.4" ry="3.7"/>
<ellipse class="o" cx="902.3" cy="210.8" rx="2.4" ry="3.7"/>
<ellipse class="o" cx="907.0" cy="185.5" rx="2.4" ry="3.7"/>
<ellipse class="o" cx="910.6" cy="182.4" rx="2.4" ry="3.7"/>
<ellipse class="o" cx="909.0" cy="189.6" rx="2.4" ry="3.7"/>
<ellipse class="o" cx="908.0" cy="194.3" rx="2.4" ry="3.7"/>
<ellipse class="o" cx="912.1" cy="196.3" rx="2.4" ry="3.7"/>
<ellipse class="o" cx="912.1" cy="188.6" rx="2.4" ry="3.7"/>
<ellipse class="o" cx="913.7" cy="207.7" rx="2.4" ry="3.7"/>
<ellipse class="o" cx="918.4" cy="206.2" rx="2.4" ry="3.7"/>
<ellipse class="o" cx="921.5" cy="209.3" rx="2.4" ry="3.7"/>
<ellipse class="o" cx="924.6" cy="211.9" rx="2.4" ry="3.7"/>
<ellipse class="o" cx="921.5" cy="214.5" rx="2.4" ry="3.7"/>
<ellipse class="o" cx="910.1" cy="216.0" rx="2.4" ry="3.7"/>
<ellipse class="o" cx="921.5" cy="185.5" rx="2.4" ry="3.7"/>
<ellipse class="o" cx="928.7" cy="183.4" rx="2.4" ry="3.7"/>
<ellipse class="o" cx="922.5" cy="178.2" rx="2.4" ry="3.7"/>
<ellipse class="o" cx="937.0" cy="179.3" rx="2.4" ry="3.7"/>
<ellipse class="o" cx="936.0" cy="189.1" rx="2.4" ry="3.7"/>
<ellipse class="o" cx="943.2" cy="191.2" rx="2.4" ry="3.7"/>
<ellipse class="o" cx="952.0" cy="188.6" rx="2.4" ry="3.7"/>
<ellipse class="o" cx="940.1" cy="204.1" rx="2.4" ry="3.7"/>
<ellipse class="o" cx="937.0" cy="207.7" rx="2.4" ry="3.7"/>
<ellipse class="o" cx="943.2" cy="206.2" rx="2.4" ry="3.7"/>
<ellipse class="o" cx="946.3" cy="210.8" rx="2.4" ry="3.7"/>
<ellipse class="o" cx="951.0" cy="199.4" rx="2.4" ry="3.7"/>
<ellipse class="o" cx="957.7" cy="201.0" rx="2.4" ry="3.7"/>
<ellipse class="o" cx="940.1" cy="215.5" rx="2.4" ry="3.7"/>
<ellipse class="o" cx="960.5" cy="176.1" rx="2.4" ry="3.7"/>
<ellipse class="o" cx="969.9" cy="184.4" rx="2.4" ry="3.7"/>
<ellipse class="o" cx="977.6" cy="182.9" rx="2.4" ry="3.7"/>
<ellipse class="o" cx="985.4" cy="181.8" rx="2.4" ry="3.7"/>
<ellipse class="o" cx="990.6" cy="186.0" rx="2.4" ry="3.7"/>
<ellipse class="o" cx="1022.2" cy="180.3" rx="2.4" ry="3.7"/>
<ellipse class="o" cx="1037.2" cy="182.9" rx="2.4" ry="3.7"/>
<ellipse class="o" cx="1046.5" cy="190.1" rx="2.4" ry="3.7"/>
<ellipse class="o" cx="1021.1" cy="195.8" rx="2.4" ry="3.7"/>
<ellipse class="o" cx="997.3" cy="196.9" rx="2.4" ry="3.7"/>
<ellipse class="o" cx="989.5" cy="192.2" rx="2.4" ry="3.7"/>
<ellipse class="o" cx="948.1" cy="193.2" rx="2.4" ry="3.7"/>
<ellipse class="o" cx="963.6" cy="190.6" rx="2.4" ry="3.7"/>
<ellipse class="o" cx="982.8" cy="189.6" rx="2.4" ry="3.7"/>
<ellipse class="o" cx="990.6" cy="204.1" rx="2.4" ry="3.7"/>
<ellipse class="o" cx="996.3" cy="207.2" rx="2.4" ry="3.7"/>
<ellipse class="o" cx="980.7" cy="206.7" rx="2.4" ry="3.7"/>
<ellipse class="o" cx="982.8" cy="209.8" rx="2.4" ry="3.7"/>
<ellipse class="o" cx="986.9" cy="214.8" rx="2.4" ry="3.7"/>
<ellipse class="o" cx="1026.3" cy="214.0" rx="2.4" ry="3.7"/>
<ellipse class="o" cx="951.2" cy="214.5" rx="2.4" ry="3.7"/>
<ellipse class="o" cx="963.6" cy="196.9" rx="2.4" ry="3.7"/>
<ellipse class="o" cx="861.8" cy="245.1" rx="2.4" ry="3.7"/>
<ellipse class="o" cx="871.5" cy="245.1" rx="2.4" ry="3.7"/>
<ellipse class="o" cx="872.8" cy="220.7" rx="2.4" ry="3.7"/>
<ellipse class="o" cx="875.4" cy="224.4" rx="2.4" ry="3.7"/>
<ellipse class="o" cx="880.6" cy="220.7" rx="2.4" ry="3.7"/>
<ellipse class="o" cx="895.6" cy="221.8" rx="2.4" ry="3.7"/>
<ellipse class="o" cx="899.7" cy="223.3" rx="2.4" ry="3.7"/>
<ellipse class="o" cx="905.9" cy="219.2" rx="2.4" ry="3.7"/>
<ellipse class="o" cx="910.1" cy="218.1" rx="2.4" ry="3.7"/>
<ellipse class="o" cx="886.3" cy="226.9" rx="2.4" ry="3.7"/>
<ellipse class="o" cx="887.3" cy="234.2" rx="2.4" ry="3.7"/>
<ellipse class="o" cx="890.4" cy="233.2" rx="2.4" ry="3.7"/>
<ellipse class="o" cx="897.1" cy="232.1" rx="2.4" ry="3.7"/>
<ellipse class="o" cx="908.5" cy="226.9" rx="2.4" ry="3.7"/>
<ellipse class="o" cx="877.1" cy="237.3" rx="2.4" ry="3.7"/>
<ellipse class="o" cx="894.5" cy="246.6" rx="2.4" ry="3.7"/>
<ellipse class="o" cx="901.8" cy="239.4" rx="2.4" ry="3.7"/>
<ellipse class="o" cx="906.4" cy="236.3" rx="2.4" ry="3.7"/>
<ellipse class="o" cx="908.0" cy="240.4" rx="2.4" ry="3.7"/>
<ellipse class="o" cx="913.2" cy="241.4" rx="2.4" ry="3.7"/>
<ellipse class="o" cx="917.8" cy="248.7" rx="2.4" ry="3.7"/>
<ellipse class="o" cx="916.3" cy="249.7" rx="2.4" ry="3.7"/>
<ellipse class="o" cx="877.4" cy="257.3" rx="2.4" ry="3.7"/>
<ellipse class="o" cx="888.8" cy="255.8" rx="2.4" ry="3.7"/>
<ellipse class="o" cx="915.3" cy="219.7" rx="2.4" ry="3.7"/>
<ellipse class="o" cx="922.5" cy="217.1" rx="2.4" ry="3.7"/>
<ellipse class="o" cx="927.7" cy="220.2" rx="2.4" ry="3.7"/>
<ellipse class="o" cx="932.9" cy="225.4" rx="2.4" ry="3.7"/>
<ellipse class="o" cx="930.3" cy="230.6" rx="2.4" ry="3.7"/>
<ellipse class="o" cx="922.5" cy="231.1" rx="2.4" ry="3.7"/>
<ellipse class="o" cx="923.5" cy="235.2" rx="2.4" ry="3.7"/>
<ellipse class="o" cx="927.2" cy="243.0" rx="2.4" ry="3.7"/>
<ellipse class="o" cx="937.5" cy="220.2" rx="2.4" ry="3.7"/>
<ellipse class="o" cx="941.1" cy="229.5" rx="2.4" ry="3.7"/>
<ellipse class="o" cx="939.1" cy="232.6" rx="2.4" ry="3.7"/>
<ellipse class="o" cx="943.7" cy="235.2" rx="2.4" ry="3.7"/>
<ellipse class="o" cx="947.4" cy="225.9" rx="2.4" ry="3.7"/>
<ellipse class="o" cx="952.0" cy="225.4" rx="2.4" ry="3.7"/>
<ellipse class="o" cx="953.6" cy="218.1" rx="2.4" ry="3.7"/>
<ellipse class="o" cx="957.7" cy="220.2" rx="2.4" ry="3.7"/>
<ellipse class="o" cx="953.6" cy="233.2" rx="2.4" ry="3.7"/>
<ellipse class="o" cx="957.7" cy="237.8" rx="2.4" ry="3.7"/>
<ellipse class="o" cx="936.0" cy="244.0" rx="2.4" ry="3.7"/>
<ellipse class="o" cx="940.1" cy="248.2" rx="2.4" ry="3.7"/>
<ellipse class="o" cx="938.6" cy="253.4" rx="2.4" ry="3.7"/>
<ellipse class="o" cx="943.2" cy="254.4" rx="2.4" ry="3.7"/>
<ellipse class="o" cx="950.5" cy="250.8" rx="2.4" ry="3.7"/>
<ellipse class="o" cx="930.8" cy="257.0" rx="2.4" ry="3.7"/>
<ellipse class="o" cx="958.8" cy="252.3" rx="2.4" ry="3.7"/>
<ellipse class="o" cx="919.4" cy="260.0" rx="2.4" ry="3.7"/>
<ellipse class="o" cx="947.4" cy="217.1" rx="2.4" ry="3.7"/>
<ellipse class="o" cx="960.5" cy="218.7" rx="2.4" ry="3.7"/>
<ellipse class="o" cx="965.7" cy="221.3" rx="2.4" ry="3.7"/>
<ellipse class="o" cx="961.1" cy="229.5" rx="2.4" ry="3.7"/>
<ellipse class="o" cx="960.5" cy="243.0" rx="2.4" ry="3.7"/>
<ellipse class="o" cx="963.6" cy="239.9" rx="2.4" ry="3.7"/>
<ellipse class="o" cx="960.5" cy="248.2" rx="2.4" ry="3.7"/>
<ellipse class="o" cx="962.6" cy="254.4" rx="2.4" ry="3.7"/>
<ellipse class="o" cx="967.3" cy="256.5" rx="2.4" ry="3.7"/>
<ellipse class="o" cx="973.0" cy="224.4" rx="2.4" ry="3.7"/>
<ellipse class="o" cx="976.1" cy="221.3" rx="2.4" ry="3.7"/>
<ellipse class="o" cx="980.2" cy="222.3" rx="2.4" ry="3.7"/>
<ellipse class="o" cx="983.8" cy="225.4" rx="2.4" ry="3.7"/>
<ellipse class="o" cx="979.2" cy="227.5" rx="2.4" ry="3.7"/>
<ellipse class="o" cx="975.0" cy="229.5" rx="2.4" ry="3.7"/>
<ellipse class="o" cx="977.1" cy="232.6" rx="2.4" ry="3.7"/>
<ellipse class="o" cx="981.8" cy="232.1" rx="2.4" ry="3.7"/>
<ellipse class="o" cx="973.0" cy="241.4" rx="2.4" ry="3.7"/>
<ellipse class="o" cx="973.5" cy="246.1" rx="2.4" ry="3.7"/>
<ellipse class="o" cx="978.7" cy="247.1" rx="2.4" ry="3.7"/>
<ellipse class="o" cx="984.9" cy="239.9" rx="2.4" ry="3.7"/>
<ellipse class="o" cx="996.3" cy="238.9" rx="2.4" ry="3.7"/>
<ellipse class="o" cx="996.3" cy="245.1" rx="2.4" ry="3.7"/>
<ellipse class="o" cx="996.3" cy="251.3" rx="2.4" ry="3.7"/>
<ellipse class="o" cx="995.8" cy="222.8" rx="2.4" ry="3.7"/>
<ellipse class="o" cx="999.9" cy="223.3" rx="2.4" ry="3.7"/>
<ellipse class="o" cx="1013.9" cy="225.4" rx="2.4" ry="3.7"/>
<ellipse class="o" cx="1006.6" cy="233.2" rx="2.4" ry="3.7"/>
<ellipse class="o" cx="1042.4" cy="238.9" rx="2.4" ry="3.7"/>
<ellipse class="o" cx="1009.7" cy="256.8" rx="2.4" ry="3.7"/>
<ellipse class="o" cx="992.1" cy="258.3" rx="2.4" ry="3.7"/>
<ellipse class="o" cx="997.8" cy="258.5" rx="2.4" ry="3.7"/>
<ellipse class="o" cx="867.1" cy="290.0" rx="2.4" ry="3.7"/>
<ellipse class="o" cx="893.7" cy="267.9" rx="2.4" ry="3.7"/>
<ellipse class="o" cx="900.8" cy="264.3" rx="2.4" ry="3.7"/>
<ellipse class="o" cx="898.5" cy="273.1" rx="2.4" ry="3.7"/>
<ellipse class="o" cx="915.5" cy="264.3" rx="2.4" ry="3.7"/>
<ellipse class="o" cx="922.5" cy="264.3" rx="2.4" ry="3.7"/>
<ellipse class="o" cx="920.9" cy="268.4" rx="2.4" ry="3.7"/>
<ellipse class="o" cx="928.2" cy="261.2" rx="2.4" ry="3.7"/>
<ellipse class="o" cx="934.9" cy="262.2" rx="2.4" ry="3.7"/>
<ellipse class="o" cx="939.1" cy="262.2" rx="2.4" ry="3.7"/>
<ellipse class="o" cx="943.2" cy="259.1" rx="2.4" ry="3.7"/>
<ellipse class="o" cx="946.3" cy="264.3" rx="2.4" ry="3.7"/>
<ellipse class="o" cx="939.1" cy="268.4" rx="2.4" ry="3.7"/>
<ellipse class="o" cx="936.0" cy="272.6" rx="2.4" ry="3.7"/>
<ellipse class="o" cx="945.8" cy="270.5" rx="2.4" ry="3.7"/>
<ellipse class="o" cx="910.1" cy="279.3" rx="2.4" ry="3.7"/>
<ellipse class="o" cx="910.1" cy="282.4" rx="2.4" ry="3.7"/>
<ellipse class="o" cx="915.0" cy="278.8" rx="2.4" ry="3.7"/>
<ellipse class="o" cx="924.6" cy="280.3" rx="2.4" ry="3.7"/>
<ellipse class="o" cx="931.8" cy="280.3" rx="2.4" ry="3.7"/>
<ellipse class="o" cx="932.3" cy="282.4" rx="2.4" ry="3.7"/>
<ellipse class="o" cx="937.0" cy="282.4" rx="2.4" ry="3.7"/>
<ellipse class="o" cx="945.5" cy="284.5" rx="2.4" ry="3.7"/>
<ellipse class="o" cx="952.5" cy="278.3" rx="2.4" ry="3.7"/>
<ellipse class="o" cx="957.7" cy="274.6" rx="2.4" ry="3.7"/>
<ellipse class="o" cx="910.6" cy="293.8" rx="2.4" ry="3.7"/>
<ellipse class="o" cx="916.8" cy="295.4" rx="2.4" ry="3.7"/>
<ellipse class="o" cx="951.5" cy="300.8" rx="2.4" ry="3.7"/>
<ellipse class="o" cx="957.2" cy="298.7" rx="2.4" ry="3.7"/>
<ellipse class="o" cx="957.9" cy="260.7" rx="2.4" ry="3.7"/>
<ellipse class="o" cx="963.1" cy="264.3" rx="2.4" ry="3.7"/>
<ellipse class="o" cx="967.3" cy="261.2" rx="2.4" ry="3.7"/>
<ellipse class="o" cx="969.3" cy="266.9" rx="2.4" ry="3.7"/>
<ellipse class="o" cx="986.4" cy="262.7" rx="2.4" ry="3.7"/>
<ellipse class="o" cx="998.9" cy="265.8" rx="2.4" ry="3.7"/>
<ellipse class="o" cx="993.5" cy="268.4" rx="2.4" ry="3.7"/>
<ellipse class="o" cx="967.3" cy="277.8" rx="2.4" ry="3.7"/>
<ellipse class="o" cx="966.5" cy="285.0" rx="2.4" ry="3.7"/>
<ellipse class="o" cx="974.8" cy="282.7" rx="2.4" ry="3.7"/>
<ellipse class="o" cx="995.4" cy="284.3" rx="2.4" ry="3.7"/>
<ellipse class="o" cx="962.6" cy="258.1" rx="2.4" ry="3.7"/>
<ellipse class="o" cx="902.4" cy="306.8" rx="2.4" ry="3.7"/>
<ellipse class="o" cx="915.4" cy="315.8" rx="2.4" ry="3.7"/>
<ellipse class="o" cx="919.3" cy="314.8" rx="2.4" ry="3.7"/>
<ellipse class="o" cx="941.5" cy="311.8" rx="2.4" ry="3.7"/>
<ellipse class="o" cx="941.9" cy="313.8" rx="2.4" ry="3.7"/>
<ellipse class="o" cx="945.7" cy="318.2" rx="2.4" ry="3.7"/>
<ellipse class="o" cx="953.0" cy="313.4" rx="2.4" ry="3.7"/>
<ellipse class="o" cx="894.4" cy="330.6" rx="2.4" ry="3.7"/>
<ellipse class="o" cx="944.5" cy="336.6" rx="2.4" ry="3.7"/>
<ellipse class="o" cx="924.7" cy="371.3" rx="2.4" ry="3.7"/>
<ellipse class="o" cx="958.5" cy="148.7" rx="2.4" ry="3.7"/>
<ellipse class="o" cx="961.1" cy="153.9" rx="2.4" ry="3.7"/>
<ellipse class="o" cx="967.3" cy="152.3" rx="2.4" ry="3.7"/>
<ellipse class="o" cx="978.1" cy="143.5" rx="2.4" ry="3.7"/>
<ellipse class="o" cx="864.0" cy="202.0" rx="2.4" ry="3.7"/>
<ellipse class="o" cx="867.6" cy="200.5" rx="2.4" ry="3.7"/>
<ellipse class="o" cx="907.5" cy="188.6" rx="2.4" ry="3.7"/>
<ellipse class="o" cx="911.1" cy="192.7" rx="2.4" ry="3.7"/>
<ellipse class="o" cx="909.6" cy="197.9" rx="2.4" ry="3.7"/>
<ellipse class="o" cx="906.5" cy="191.7" rx="2.4" ry="3.7"/>
<ellipse class="o" cx="926.6" cy="185.5" rx="2.4" ry="3.7"/>
<ellipse class="o" cx="920.4" cy="190.6" rx="2.4" ry="3.7"/>
<ellipse class="o" cx="928.7" cy="178.2" rx="2.4" ry="3.7"/>
<ellipse class="o" cx="923.5" cy="181.8" rx="2.4" ry="3.7"/>
<ellipse class="o" cx="958.2" cy="189.6" rx="2.4" ry="3.7"/>
<ellipse class="o" cx="938.0" cy="193.2" rx="2.4" ry="3.7"/>
<ellipse class="o" cx="947.4" cy="192.7" rx="2.4" ry="3.7"/>
<ellipse class="o" cx="954.6" cy="192.7" rx="2.4" ry="3.7"/>
<ellipse class="o" cx="916.3" cy="211.4" rx="2.4" ry="3.7"/>
<ellipse class="o" cx="918.9" cy="213.4" rx="2.4" ry="3.7"/>
<ellipse class="o" cx="922.5" cy="207.2" rx="2.4" ry="3.7"/>
<ellipse class="o" cx="925.6" cy="215.5" rx="2.4" ry="3.7"/>
<ellipse class="o" cx="914.7" cy="215.0" rx="2.4" ry="3.7"/>
<ellipse class="o" cx="938.0" cy="202.0" rx="2.4" ry="3.7"/>
<ellipse class="o" cx="942.2" cy="210.3" rx="2.4" ry="3.7"/>
<ellipse class="o" cx="949.4" cy="213.4" rx="2.4" ry="3.7"/>
<ellipse class="o" cx="954.6" cy="211.4" rx="2.4" ry="3.7"/>
<ellipse class="o" cx="957.7" cy="208.3" rx="2.4" ry="3.7"/>
<ellipse class="o" cx="946.8" cy="203.1" rx="2.4" ry="3.7"/>
<ellipse class="o" cx="952.8" cy="192.7" rx="2.4" ry="3.7"/>
<ellipse class="o" cx="947.1" cy="197.9" rx="2.4" ry="3.7"/>
<ellipse class="o" cx="954.8" cy="196.3" rx="2.4" ry="3.7"/>
<ellipse class="o" cx="950.2" cy="187.5" rx="2.4" ry="3.7"/>
<ellipse class="o" cx="979.7" cy="204.1" rx="2.4" ry="3.7"/>
<ellipse class="o" cx="948.1" cy="215.5" rx="2.4" ry="3.7"/>
<ellipse class="o" cx="954.3" cy="217.0" rx="2.4" ry="3.7"/>
<ellipse class="o" cx="946.0" cy="208.3" rx="2.4" ry="3.7"/>
<ellipse class="o" cx="877.1" cy="237.8" rx="2.4" ry="3.7"/>
<ellipse class="o" cx="899.7" cy="223.8" rx="2.4" ry="3.7"/>
<ellipse class="o" cx="918.5" cy="248.0" rx="2.4" ry="3.7"/>
<ellipse class="o" cx="907.5" cy="238.3" rx="2.4" ry="3.7"/>
<ellipse class="o" cx="923.0" cy="215.6" rx="2.4" ry="3.7"/>
<ellipse class="o" cx="926.6" cy="217.6" rx="2.4" ry="3.7"/>
<ellipse class="o" cx="931.8" cy="223.8" rx="2.4" ry="3.7"/>
<ellipse class="o" cx="954.6" cy="219.2" rx="2.4" ry="3.7"/>
<ellipse class="o" cx="958.2" cy="217.1" rx="2.4" ry="3.7"/>
<ellipse class="o" cx="949.4" cy="220.2" rx="2.4" ry="3.7"/>
<ellipse class="o" cx="942.2" cy="233.7" rx="2.4" ry="3.7"/>
<ellipse class="o" cx="956.7" cy="234.7" rx="2.4" ry="3.7"/>
<ellipse class="o" cx="958.8" cy="240.9" rx="2.4" ry="3.7"/>
<ellipse class="o" cx="938.0" cy="251.3" rx="2.4" ry="3.7"/>
<ellipse class="o" cx="941.7" cy="256.5" rx="2.4" ry="3.7"/>
<ellipse class="o" cx="945.3" cy="258.5" rx="2.4" ry="3.7"/>
<ellipse class="o" cx="958.2" cy="255.4" rx="2.4" ry="3.7"/>
<ellipse class="o" cx="953.3" cy="220.2" rx="2.4" ry="3.7"/>
<ellipse class="o" cx="958.5" cy="216.6" rx="2.4" ry="3.7"/>
<ellipse class="o" cx="963.1" cy="222.3" rx="2.4" ry="3.7"/>
<ellipse class="o" cx="978.1" cy="224.9" rx="2.4" ry="3.7"/>
<ellipse class="o" cx="981.3" cy="229.0" rx="2.4" ry="3.7"/>
<ellipse class="o" cx="976.1" cy="234.7" rx="2.4" ry="3.7"/>
<ellipse class="o" cx="960.5" cy="245.6" rx="2.4" ry="3.7"/>
<ellipse class="o" cx="962.1" cy="251.3" rx="2.4" ry="3.7"/>
<ellipse class="o" cx="964.7" cy="257.5" rx="2.4" ry="3.7"/>
<ellipse class="o" cx="959.5" cy="256.5" rx="2.4" ry="3.7"/>
<ellipse class="o" cx="956.4" cy="234.7" rx="2.4" ry="3.7"/>
<ellipse class="o" cx="974.0" cy="244.0" rx="2.4" ry="3.7"/>
</g>
<line x1="768.2" y1="226.6" x2="1039" y2="182.4" stroke="#000" stroke-width="2.1"/>
<line x1="755.70" x2="1060.90" y1="26.00" y2="26.00" stroke="#2e2e2e" stroke-width="1.5"/>
<line x1="755.70" x2="1060.90" y1="387.50" y2="387.50" stroke="#2e2e2e" stroke-width="1.5"/>
<line x1="1060.30" x2="1060.30" y1="26.00" y2="387.50" stroke="#2e2e2e" stroke-width="1.2"/>
<line x1="752.60" x2="755.60" y1="70.30" y2="70.30" stroke="#555" stroke-width="1.1"/>
<text x="732.50" y="77.00" font-size="16.4" font-weight="bold" fill="#000" stroke="#000" stroke-width="0.3" textLength="17.30" lengthAdjust="spacingAndGlyphs">1.5</text>
<line x1="752.60" x2="755.60" y1="116.00" y2="116.00" stroke="#555" stroke-width="1.1"/>
<text x="732.50" y="122.70" font-size="16.4" font-weight="bold" fill="#000" stroke="#000" stroke-width="0.3" textLength="17.30" lengthAdjust="spacingAndGlyphs">1.0</text>
<line x1="752.60" x2="755.60" y1="161.70" y2="161.70" stroke="#555" stroke-width="1.1"/>
<text x="732.50" y="168.40" font-size="16.4" font-weight="bold" fill="#000" stroke="#000" stroke-width="0.3" textLength="17.30" lengthAdjust="spacingAndGlyphs">0.5</text>
<line x1="752.60" x2="755.60" y1="207.40" y2="207.40" stroke="#555" stroke-width="1.1"/>
<text x="732.50" y="214.10" font-size="16.4" font-weight="bold" fill="#000" stroke="#000" stroke-width="0.3" textLength="17.30" lengthAdjust="spacingAndGlyphs">0.0</text>
<line x1="752.60" x2="755.60" y1="253.10" y2="253.10" stroke="#555" stroke-width="1.1"/>
<text x="723.50" y="259.80" font-size="16.4" font-weight="bold" fill="#000" stroke="#000" stroke-width="0.3" textLength="26.30" lengthAdjust="spacingAndGlyphs">−0.5</text>
<line x1="752.60" x2="755.60" y1="298.80" y2="298.80" stroke="#555" stroke-width="1.1"/>
<text x="723.50" y="305.50" font-size="16.4" font-weight="bold" fill="#000" stroke="#000" stroke-width="0.3" textLength="26.30" lengthAdjust="spacingAndGlyphs">−1.0</text>
<line x1="752.60" x2="755.60" y1="344.50" y2="344.50" stroke="#555" stroke-width="1.1"/>
<text x="723.50" y="351.20" font-size="16.4" font-weight="bold" fill="#000" stroke="#000" stroke-width="0.3" textLength="26.30" lengthAdjust="spacingAndGlyphs">−1.5</text>
<line x1="769.50" x2="769.50" y1="387.50" y2="391.70" stroke="#333" stroke-width="0.9"/>
<text x="766.25" y="409.00" font-size="16" font-weight="bold" fill="#000" stroke="#000" stroke-width="0.3" textLength="6.50" lengthAdjust="spacingAndGlyphs">6</text>
<line x1="807.94" x2="807.94" y1="387.50" y2="391.70" stroke="#333" stroke-width="0.9"/>
<text x="804.69" y="409.00" font-size="16" font-weight="bold" fill="#000" stroke="#000" stroke-width="0.3" textLength="6.50" lengthAdjust="spacingAndGlyphs">8</text>
<line x1="846.38" x2="846.38" y1="387.50" y2="391.70" stroke="#333" stroke-width="0.9"/>
<text x="839.78" y="409.00" font-size="16" font-weight="bold" fill="#000" stroke="#000" stroke-width="0.3" textLength="13.20" lengthAdjust="spacingAndGlyphs">10</text>
<line x1="884.82" x2="884.82" y1="387.50" y2="391.70" stroke="#333" stroke-width="0.9"/>
<text x="878.22" y="409.00" font-size="16" font-weight="bold" fill="#000" stroke="#000" stroke-width="0.3" textLength="13.20" lengthAdjust="spacingAndGlyphs">12</text>
<line x1="923.26" x2="923.26" y1="387.50" y2="391.70" stroke="#333" stroke-width="0.9"/>
<text x="916.66" y="409.00" font-size="16" font-weight="bold" fill="#000" stroke="#000" stroke-width="0.3" textLength="13.20" lengthAdjust="spacingAndGlyphs">14</text>
<line x1="961.70" x2="961.70" y1="387.50" y2="391.70" stroke="#333" stroke-width="0.9"/>
<text x="955.10" y="409.00" font-size="16" font-weight="bold" fill="#000" stroke="#000" stroke-width="0.3" textLength="13.20" lengthAdjust="spacingAndGlyphs">16</text>
<line x1="1000.14" x2="1000.14" y1="387.50" y2="391.70" stroke="#333" stroke-width="0.9"/>
<text x="993.54" y="409.00" font-size="16" font-weight="bold" fill="#000" stroke="#000" stroke-width="0.3" textLength="13.20" lengthAdjust="spacingAndGlyphs">18</text>
<line x1="1038.58" x2="1038.58" y1="387.50" y2="391.70" stroke="#333" stroke-width="0.9"/>
<text x="1031.98" y="409.00" font-size="16" font-weight="bold" fill="#000" stroke="#000" stroke-width="0.3" textLength="13.20" lengthAdjust="spacingAndGlyphs">20</text>
<text x="873.50" y="431.20" font-size="18.3" font-weight="bold" fill="#000" stroke="#000" stroke-width="0.3" textLength="68.70" lengthAdjust="spacingAndGlyphs">TQR Score</text>
<text x="776.10" y="18.90" font-size="18.6" font-weight="bold" fill="#000" stroke="#000" stroke-width="0.3" textLength="262.60" lengthAdjust="spacingAndGlyphs">C) Discrepancy vs TQR with Regression</text>
<text transform="translate(716.40,304.00) rotate(-90)" x="0" y="0" font-size="11.3" font-weight="bold" stroke="#000" stroke-width="0.45" textLength="195.00" lengthAdjust="spacingAndGlyphs">Discrepancy Index</text>
<rect x="760.6" y="34.4" width="92.8" height="54.5" rx="2" ry="2.5" fill="#fff" fill-opacity="0.8" stroke="#d4d4d4" stroke-width="0.9"/>
<ellipse cx="775.2" cy="49.0" rx="2.5" ry="3.8" fill="#0079c4" fill-opacity="0.7" stroke="#0079c4" stroke-opacity="0.7" stroke-width="0.7"/>
<ellipse cx="775.2" cy="73.9" rx="2.4" ry="3.8" fill="#ff7f00" fill-opacity="0.7" stroke="#ff7f00" stroke-opacity="0.7" stroke-width="0.7"/>
<text x="794.50" y="53.40" font-size="16" font-weight="normal" fill="#000" stroke="#000" stroke-width="0.2" textLength="53.50" lengthAdjust="spacingAndGlyphs">Relaxation</text>
<text x="794.50" y="77.60" font-size="16" font-weight="normal" fill="#000" stroke="#000" stroke-width="0.2" textLength="37.40" lengthAdjust="spacingAndGlyphs">Passive</text>
</svg>
</body></html>
